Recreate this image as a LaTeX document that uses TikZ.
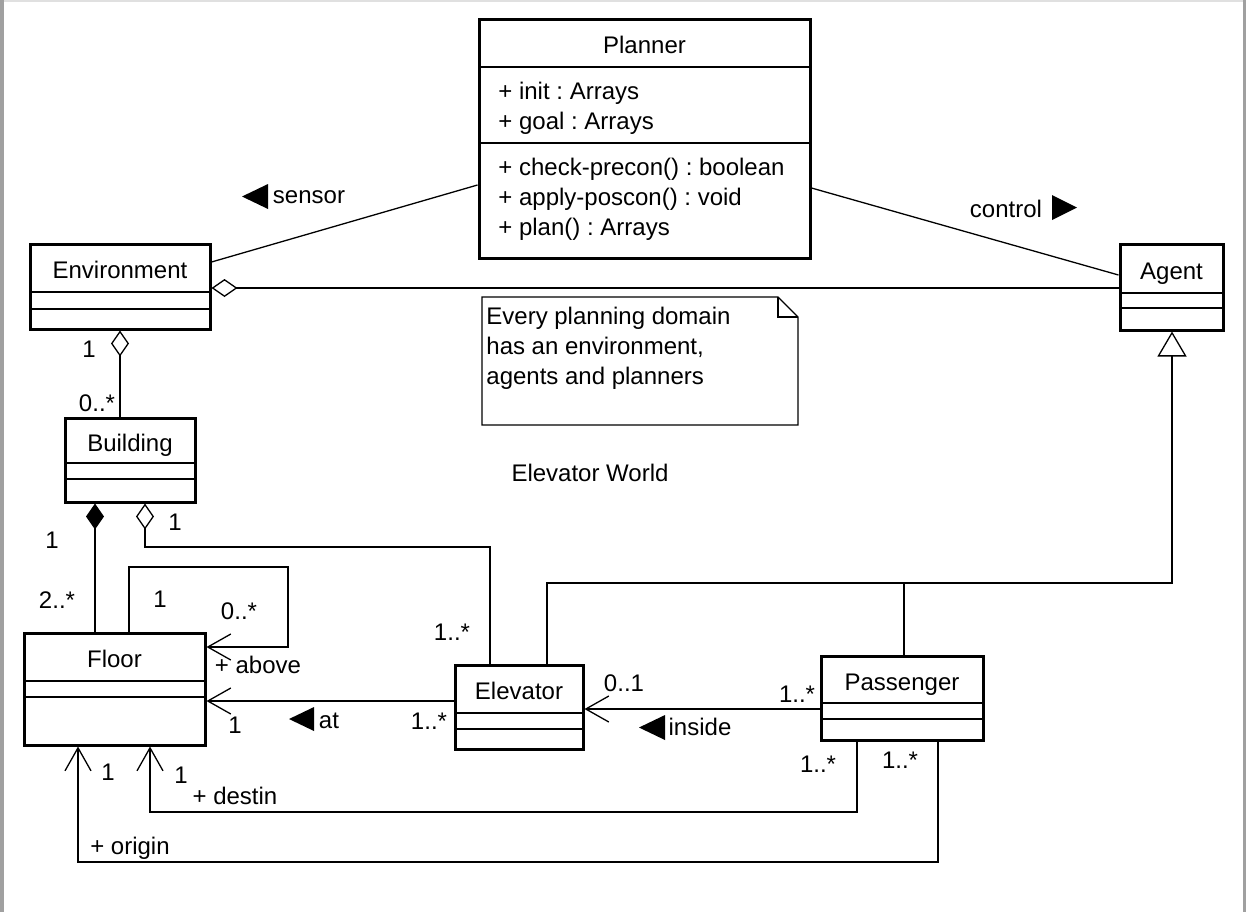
\documentclass[tikz,border=0pt]{standalone}
\usepackage{fontspec}
\setmainfont{Liberation Sans}
\usetikzlibrary{arrows.meta,fit}
\definecolor{frame}{RGB}{160,160,160}
\frenchspacing
% class box: name, left, top, right, bottom, title, first and second divider
\newcommand{\umlclass}[8]{%
  \node[classbox, fit={(#2,#3) (#4,#5)}] (#1) {};
  \path (#2,#3) -- (#4,#7) node[midway, anchor=base, yshift=-5.25pt] (#1-name) {#6};
  \draw[divider] (#2,#7) -- (#4,#7);
  \draw[divider] (#2,#8) -- (#4,#8);
}
\begin{document}
\begin{tikzpicture}[x=0.5pt, y=-0.5pt, font=\fontsize{12}{15}\selectfont,
    classbox/.style={draw, line width=1.5pt, inner sep=0pt},
    divider/.style={line width=1pt},
    assoc/.style={line width=0.65pt},
    navig/.style={assoc, -{Straight Barb[length=11.5pt, width=13pt]}},
    aggr/.style={assoc, {Diamond[open, length=13pt, width=9pt]}-},
    comp/.style={assoc, {Diamond[length=13pt, width=9pt]}-},
    gener/.style={assoc, -{Triangle[open, length=12.5pt, width=14.5pt]}}]
    \useasboundingbox (0,0) rectangle (1246,912);
    % window frame
    \fill[white] (0,0) rectangle (1246,912);
    \fill[frame] (0,0) rectangle (4,912);
    \fill[frame] (1243,0) rectangle (1246,912);
    \fill[black!12] (4,0) rectangle (1243,2);
    % classes
    \umlclass{plan}{479}{19}{810}{258}{Planner}{67}{143}
    \node[anchor=west, align=left, inner sep=0pt] (planattr) at (498,108)
        {+ init : Arrays\\+ goal : Arrays};
    \node[anchor=west, align=left, inner sep=0pt] (planops) at (498,199)
        {+ check-precon() : boolean\\+ apply-poscon() : void\\+ plan() : Arrays};
    \umlclass{env}{30}{244}{210}{329}{Environment}{292}{309}
    \umlclass{agent}{1120}{244}{1223}{330}{Agent}{293}{308}
    \umlclass{bld}{65}{418}{195}{502}{Building}{463}{479}
    \umlclass{floor}{24}{633}{205}{745}{Floor}{681}{697}
    \umlclass{elev}{455}{665}{583}{749}{Elevator}{713}{729}
    \umlclass{pass}{821}{656}{983}{740}{Passenger}{703}{719}
    % note
    \draw[assoc] (482,297) -- (778,297) -- (798,317) -- (798,425) -- (482,425) -- cycle;
    \draw[assoc] (778,297) -- (778,317) -- (798,317);
    \node[anchor=west, align=left, inner sep=0pt] (note) at (486,348)
        {Every planning domain\\has an environment,\\agents and planners};
    \node (title) at (590,473) {Elevator World};
    % sensor and control
    \draw[assoc] (env.east |- 0,262) -- (plan.west |- 0,185);
    \fill (268,184) -- (268,209) -- (242,196.5) -- cycle;
    \node (sensor) at (309,197) {sensor};
    \draw[assoc] (plan.east |- 0,188) -- (agent.west |- 0,275);
    \node (control) at (1006,209) {control};
    \fill (1052,195) -- (1052,220) -- (1077,207.5) -- cycle;
    % aggregations and composition
    \draw[aggr] (env.east |- 0,288) -- (agent.west |- 0,288);
    \draw[aggr] (env.south -| 120,0) -- (bld.north -| 120,0);
    \node (envone) at (89,349) {1};
    \node (bldmany) at (97,403) {0..*};
    \draw[comp] (bld.south -| 95,0) -- (floor.north -| 95,0);
    \node (bldone) at (52,540) {1};
    \node (floormany) at (57,600) {2..*};
    \draw[aggr] (bld.south -| 145,0) -- (145,547) -- (490,547) -- (elev.north -| 490,0);
    \node (bldone2) at (175,522) {1};
    \node (elevmany) at (452,632) {1..*};
    % floor above floor
    \draw[navig] (floor.north -| 129,0) -- (129,567) -- (288,567) -- (288,647) -- (floor.east |- 0,647);
    \node (aboveone) at (160,599) {1};
    \node (abovemany) at (239,611) {0..*};
    \node (above) at (258,665) {+ above};
    % elevator at floor
    \draw[navig] (elev.west |- 0,701) -- (floor.east |- 0,701);
    \node (atone) at (235,725) {1};
    \fill (314,707) -- (314,731) -- (289,719) -- cycle;
    \node (at) at (329,721) {at};
    \node (atmany) at (429,721) {1..*};
    % passenger inside elevator
    \draw[navig] (pass.west |- 0,709) -- (elev.east |- 0,709);
    \node (insideone) at (624,683) {0..1};
    \node (insidemany) at (797,694) {1..*};
    \fill (665,715) -- (665,740) -- (639,727.5) -- cycle;
    \node (inside) at (700,727) {inside};
    % origin and destination
    \draw[navig] (pass.south -| 857,0) -- (857,812) -- (150,812) -- (floor.south -| 150,0);
    \node (destmany) at (818,764) {1..*};
    \node (destone) at (181,775) {1};
    \node (destin) at (235,796) {+ destin};
    \draw[navig] (pass.south -| 938,0) -- (938,862) -- (78,862) -- (floor.south -| 78,0);
    \node (origmany) at (900,760) {1..*};
    \node (origone) at (108,772) {1};
    \node (origin) at (130,848) {+ origin};
    % generalization
    \draw[gener] (elev.north -| 547,0) -- (547,583) -- (1172,583) -- (agent.south -| 1172,0);
    \draw[assoc] (pass.north -| 904,0) -- (904,583);
\end{tikzpicture}
\end{document}
